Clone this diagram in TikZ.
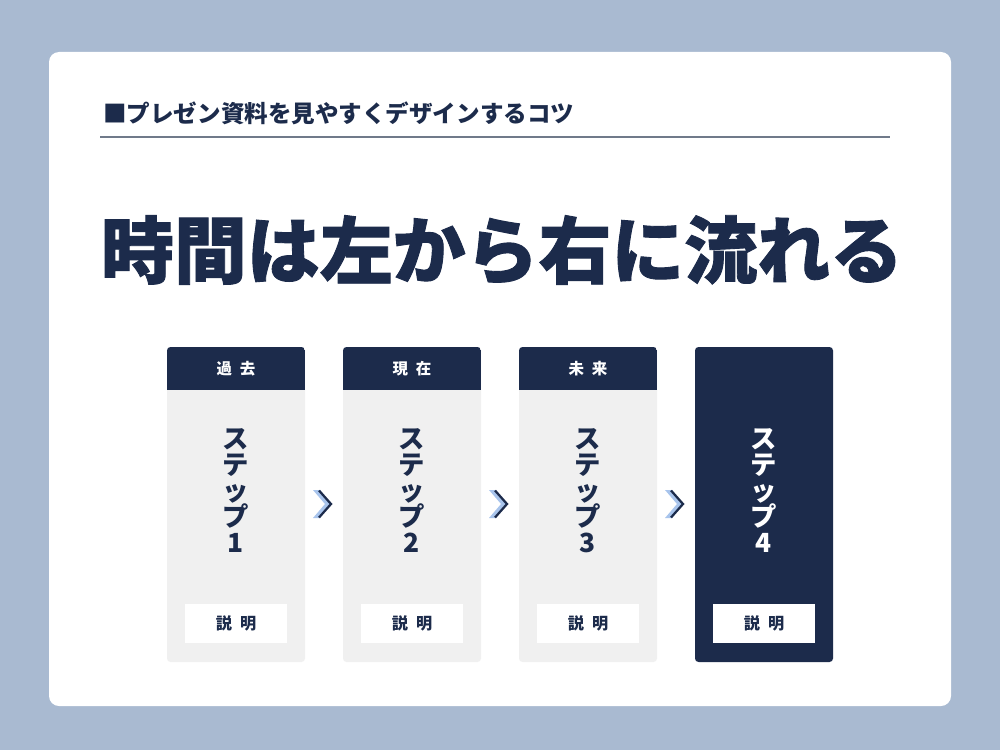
\documentclass[tikz,border=0pt]{standalone}
\usepackage{fontspec}
\setmainfont{Noto Sans CJK JP}
\newfontfamily\heavyfont{Noto Sans CJK JP}[BoldFeatures={FakeBold=1.2}]
\usetikzlibrary{positioning, calc}
\definecolor{navy}{HTML}{1C2B4B}
\definecolor{bgblue}{HTML}{A9BAD1}
\definecolor{cardgray}{HTML}{F0F0F0}
\definecolor{rulegray}{HTML}{707A8A}
\definecolor{arrowlight}{HTML}{A8C4EC}
\tikzset{
    headtext/.style={text=white, font=\bfseries\fontsize{8.8}{10}\selectfont},
    steptext/.style={font=\bfseries\fontsize{15}{14.8}\selectfont, align=center},
    notebox/.style={fill=white, minimum width=2.04cm, minimum height=0.78cm, inner sep=0pt, text=navy, font=\bfseries\fontsize{9.2}{10}\selectfont},
}
% one column: #1 left edge, #2 name, #3 header text, #4 number
\newcommand{\stepcard}[4]{
    \fill[cardgray, rounded corners=2pt] (#1,347) rectangle (#1+138,662);
    \begin{scope}
        \clip[rounded corners=2pt] (#1,347) rectangle (#1+138,662);
        \fill[navy] (#1,347) rectangle (#1+138,390);
    \end{scope}
    \node[headtext] (#2head) at (#1+69,369) {#3};
    \node[steptext, text=navy] (#2step) at (#1+69,491) {ス\\テ\\ッ\\プ\\#4};
    \node[notebox] (#2note) at (#1+69,623.5) {説\,\,\,明};
}
% chevron between columns, #1 tip x
\newcommand{\chev}[2]{
    \coordinate (#2) at (#1,504);
    \fill[arrowlight] (#1-18,490) -- (#1-11,490) -- (#2) -- (#1-11,518) -- (#1-18,518) -- (#1-6,504) -- cycle;
    \draw[navy, line width=0.045cm, line join=miter] (#1-12,490.5) -- (#2) -- (#1-12,517.5);
}

\begin{document}
\begin{tikzpicture}[x=0.02cm, y=-0.02cm]
    \fill[bgblue] (0,0) rectangle (1000,750);
    \fill[white, rounded corners=0.2cm] (49,52) rectangle (951,706);
    \node[anchor=west, text=navy, font=\bfseries\fontsize{13.4}{15}\selectfont, inner sep=0pt] (subtitle) at (103,113) {■プレゼン資料を見やすくデザインするコツ};
    \coordinate (ruleL) at (100,137);
    \coordinate (ruleR) at (890,137);
    \draw[rulegray, line width=0.6pt] (ruleL) -- (ruleR);
    \node[text=navy, font=\heavyfont\bfseries\fontsize{41.5}{45}\selectfont] (title) at (502,250) {時間は左から右に流れる};
    \stepcard{167}{past}{過\,\,\,去}{1}
    \stepcard{343}{now}{現\,\,\,在}{2}
    \stepcard{519}{future}{未\,\,\,来}{3}
    % last column is dark
    \fill[navy, rounded corners=2pt] (695,347) rectangle (833,662);
    \node[steptext, text=white] (laststep) at (764,491) {ス\\テ\\ッ\\プ\\4};
    \node[notebox] (lastnote) at (764,623.5) {説\,\,\,明};
    \chev{331}{arA}
    \chev{507}{arB}
    \chev{683}{arC}
\end{tikzpicture}
\end{document}
